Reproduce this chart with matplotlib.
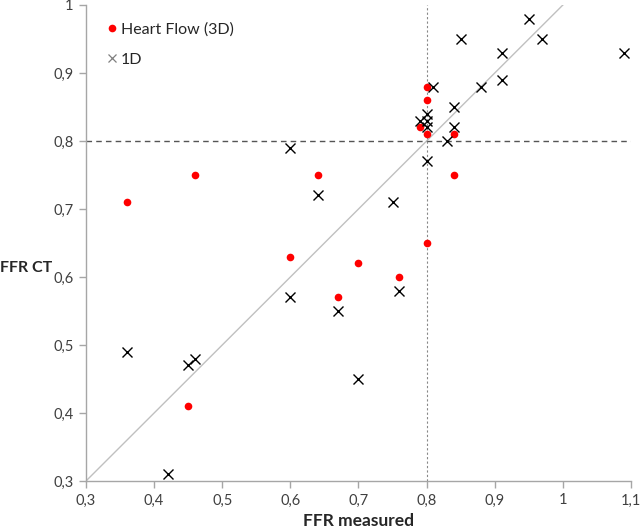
import matplotlib
matplotlib.use("Agg")
import matplotlib.pyplot as plt
from matplotlib.ticker import FixedLocator, FixedFormatter
from matplotlib.lines import Line2D

plt.rcParams['font.family'] = ['Lato', 'DejaVu Sans']

# Heart Flow (3D) data
hf_measured = [0.36, 0.46, 0.64, 0.60, 0.70, 0.67, 0.76, 0.45, 0.80, 0.84, 0.84, 0.80, 0.79, 0.80, 0.80]
hf_ct       = [0.71, 0.75, 0.75, 0.63, 0.62, 0.57, 0.60, 0.41, 0.65, 0.75, 0.81, 0.81, 0.82, 0.86, 0.88]

# 1D data
od_measured = [0.36, 0.42, 0.45, 0.46, 0.60, 0.60, 0.64, 0.67, 0.70, 0.75, 0.76, 0.80, 0.83, 0.84, 0.84,
               0.88, 0.91, 0.91, 0.85, 0.95, 0.97, 1.09, 0.81, 0.79, 0.80, 0.80, 0.80]
od_ct       = [0.49, 0.31, 0.47, 0.48, 0.57, 0.79, 0.72, 0.55, 0.45, 0.71, 0.58, 0.77, 0.80, 0.82, 0.85,
               0.88, 0.89, 0.93, 0.95, 0.98, 0.95, 0.93, 0.88, 0.83, 0.82, 0.83, 0.84]

x_ticks = [0.3, 0.4, 0.5, 0.6, 0.7, 0.8, 0.9, 1.0, 1.1]
x_labels = ["0,3", "0,4", "0,5", "0,6", "0,7", "0,8", "0,9", "1", "1,1"]
y_ticks = [0.3, 0.4, 0.5, 0.6, 0.7, 0.8, 0.9, 1.0]
y_labels = ["0,3", "0,4", "0,5", "0,6", "0,7", "0,8", "0,9", "1"]
cutoff = 0.8
identity = [0.3, 1.0]

fig = plt.figure(figsize=(6.4, 5.31), dpi=100)
ax = fig.add_axes([86/640, 50/531, (631-86)/640, (481-5)/531])

ax.plot(identity, identity, color='#c0c0c0', lw=1.0, zorder=1)
ax.axhline(cutoff, color='#555555', lw=1.0, ls=(0, (4, 3)), zorder=1)
ax.axvline(cutoff, color='#888888', lw=0.8, ls=(0, (2, 2)), zorder=1)

ax.plot(hf_measured, hf_ct, ls='none', marker='o', ms=5.5, color='#ff0000',
        markeredgewidth=0, zorder=3)
ax.plot(od_measured, od_ct, ls='none', marker='x', ms=7.5, color='black',
        markeredgewidth=1.0, zorder=4)

ax.set_xlim(0.3, 1.1)
ax.set_ylim(0.3, 1.0)
ax.xaxis.set_major_locator(FixedLocator(x_ticks))
ax.xaxis.set_major_formatter(FixedFormatter(x_labels))
ax.yaxis.set_major_locator(FixedLocator(y_ticks))
ax.yaxis.set_major_formatter(FixedFormatter(y_labels))

for s in ['top', 'right']:
    ax.spines[s].set_visible(False)
for s in ['left', 'bottom']:
    ax.spines[s].set_color('#a6a6a6')
    ax.spines[s].set_linewidth(1.0)
ax.tick_params(axis='both', colors='#a6a6a6', labelcolor='#404040', labelsize=10.5,
               length=5, width=1.0, direction='out', pad=4)

ax.set_xlabel('FFR measured', fontsize=12.5, fontweight='bold', color='#262626', labelpad=4)
ax.set_ylabel('FFR CT', fontsize=11.5, fontweight='bold', color='#262626', rotation=0,
              ha='center', va='center')
ax.yaxis.set_label_coords(-0.11, 0.448)

handles = [
    Line2D([], [], ls='none', marker='o', ms=5.5, color='#ff0000', markeredgewidth=0),
    Line2D([], [], ls='none', marker='x', ms=6, color='#7f7f7f', markeredgewidth=0.9),
]
leg = ax.legend(handles, ['Heart Flow (3D)', '1D'], loc='upper left', bbox_to_anchor=(0.0, 1.0),
                frameon=False, fontsize=11.5, handletextpad=0.1, handlelength=1.0,
                labelspacing=1.0, borderaxespad=0.8, borderpad=0.3)
for t in leg.get_texts():
    t.set_color('#262626')

fig.savefig('out.png', dpi=100)
